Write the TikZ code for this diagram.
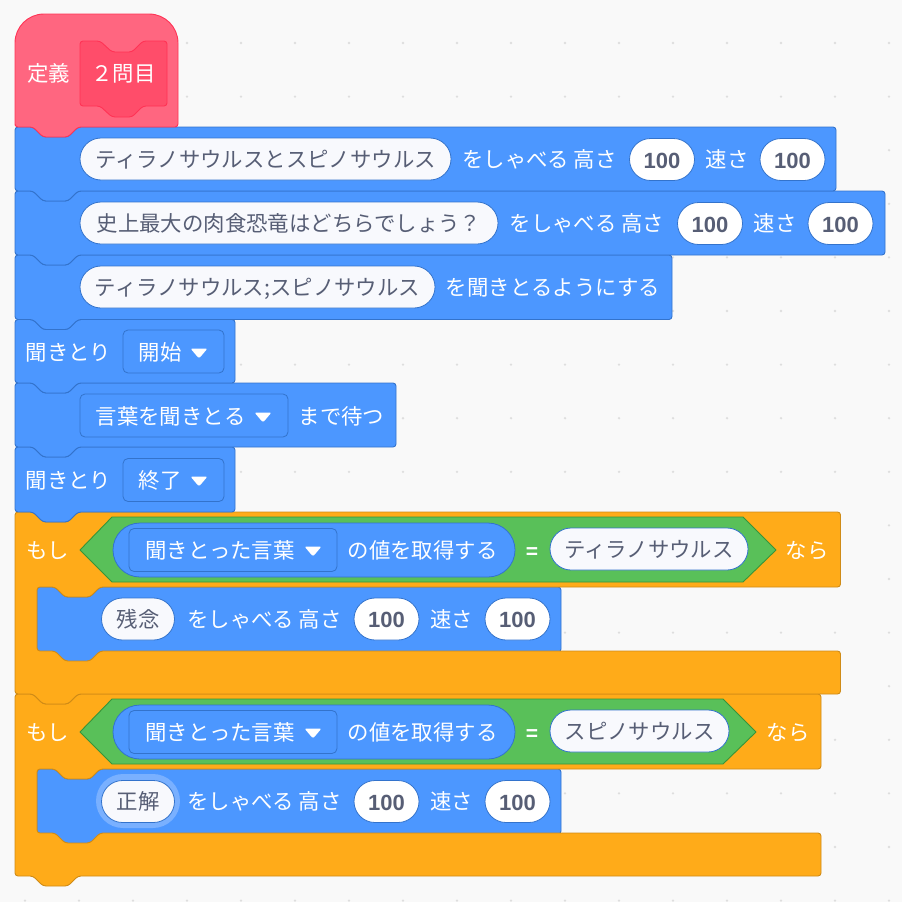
\documentclass[tikz,border=0pt]{standalone}
\usepackage{fontspec}
\usetikzlibrary{shapes.misc}
\setmainfont{Noto Sans CJK JP}
\newfontfamily\numfont{Liberation Sans}
\definecolor{bgc}{HTML}{F9F9F9}
\definecolor{dotc}{HTML}{DEDEDE}
\definecolor{bluef}{HTML}{4C97FF}
\definecolor{blued}{HTML}{3373CC}
\definecolor{orf}{HTML}{FFAB19}
\definecolor{ord}{HTML}{CF8B17}
\definecolor{grf}{HTML}{59C059}
\definecolor{grd}{HTML}{389438}
\definecolor{pkf}{HTML}{FF6680}
\definecolor{pki}{HTML}{FF4D6A}
\definecolor{pkd}{HTML}{FF3355}
\definecolor{inkc}{HTML}{575E75}
\definecolor{pilf}{HTML}{F8F9FD}
\definecolor{halo}{HTML}{79B0FF}
\tikzset{
  x=1pt,y=-1pt,
  looks/.style={line width=0.9pt,line join=round},
  blueblk/.style={looks,fill=bluef,draw=blued},
  orblk/.style={looks,fill=orf,draw=ord},
  lbl/.style={inner sep=0pt,text=white,font=\fontsize{21.4}{25}\selectfont,text height=21pt,text depth=5pt,anchor=center},
  inlbl/.style={shape=rounded rectangle,rounded rectangle arc length=180,inner sep=0pt,draw=blued,line width=0.8pt,fill=pilf,text=inkc,font=\fontsize{21.4}{25}\selectfont,text height=21pt,text depth=5pt,minimum height=42pt},
  numpill/.style={inlbl,fill=white,font=\numfont\bfseries\fontsize{22}{25}\selectfont,text height=20pt,text depth=3pt,minimum width=65pt},
  ddbox/.style={rectangle,rounded corners=5pt,draw=blued,line width=0.8pt,fill=bluef,inner sep=0pt,minimum height=43pt},
}
\newcommand{\stackblk}[5]{%
  \draw[#1,rounded corners=3pt] (#2,#3) -- (#2+18,#3) -- (#2+28,#3+10) -- (#2+53,#3+10) -- (#2+63,#3)
    -- (#4,#3) -- (#4,#5) -- (#2+63,#5) -- (#2+53,#5+10) -- (#2+28,#5+10) -- (#2+18,#5) -- (#2,#5) -- cycle;}
% top, right, arm bottom, inner bottom, bottom
\newcommand{\cblk}[5]{%
  \draw[orblk,rounded corners=3pt] (15,#1) -- (33,#1) -- (43,#1+10) -- (68,#1+10) -- (78,#1)
    -- (#2,#1) -- (#2,#3) -- (100,#3) -- (90,#3+10) -- (65,#3+10) -- (55,#3) -- (37,#3)
    -- (37,#4) -- (55,#4) -- (65,#4+10) -- (90,#4+10) -- (100,#4) -- (#2,#4) -- (#2,#5)
    -- (78,#5) -- (68,#5+10) -- (43,#5+10) -- (33,#5) -- (15,#5) -- cycle;}
\newcommand{\ddtri}[2]{%
  \fill[white,rounded corners=2pt] (#1-8.5,#2-4.5) -- (#1+8.5,#2-4.5) -- (#1,#2+5.5) -- cycle;}
% name prefix, y centre, right-corner x of hex, tip x, white pill centre x, pill width, text, nara x
\newcommand{\condition}[8]{%
  \draw[looks,fill=grf,draw=grd] (80,#2) -- (112,#2-33) -- (#3,#2-33) -- (#4,#2) -- (#3,#2+32) -- (112,#2+32) -- cycle;
  \node[inlbl,fill=bluef,minimum width=402pt,minimum height=54pt] (#1rep) at (314,#2) {};
  \node[ddbox,minimum width=208pt] (#1dd) at (233,#2) {};
  \node[lbl] (#1ddt) at (220,#2) {聞きとった言葉};
  \ddtri{313}{#2+1}
  \node[lbl] (#1val) at (422.5,#2) {の値を取得する};
  \node[lbl,font=\numfont\bfseries\fontsize{21}{25}\selectfont] (#1eq) at (532,#2) {=};
  \node[inlbl,minimum width=#6pt] (#1pill) at (#5,#2-1) {#7};
  \node[lbl] (#1nara) at (#8,#2) {なら};
  \node[lbl] (#1mosi) at (47.5,#2) {もし};
}
% name prefix, y centre, literal
\newcommand{\sayrow}[3]{%
  \node[inlbl,minimum width=73pt] (#1a) at (138,#2) {#3};
  \node[lbl] (#1b) at (264.5,#2) {をしゃべる 高さ};
  \node[numpill] (#1c) at (386.5,#2) {100};
  \node[lbl] (#1d) at (451.5,#2) {速さ};
  \node[numpill] (#1e) at (517.5,#2) {100};
}
\begin{document}
\begin{tikzpicture}
\useasboundingbox (0,0) rectangle (902,902);
\fill[bgc] (0,0) rectangle (902,902);
\foreach \i in {0,...,16}{\foreach \j in {0,...,16}{
  \fill[dotc] (25+54*\i,43+53.6*\j) circle (1.3pt);}}
% ---- second if block
\stackblk{blueblk}{37}{769}{561}{834}
\cblk{694}{821}{769}{833}{876}
% ---- first if block
\stackblk{blueblk}{37}{587}{561}{652}
\cblk{512}{840.5}{587}{651}{694}
% ---- stack
\stackblk{blueblk}{15}{447}{235}{512}
\stackblk{blueblk}{15}{383}{396}{447}
\stackblk{blueblk}{15}{319.5}{235}{383}
\stackblk{blueblk}{15}{255}{672}{319.5}
\stackblk{blueblk}{15}{191}{885}{255}
\stackblk{blueblk}{15}{127}{836}{191}
% ---- hat
\draw[looks,fill=pkf,draw=pkd] (15,127) [rounded corners=29pt] -- (15,14) -- (178,14) [rounded corners=3pt] -- (178,127)
  -- (78,127) -- (68,137) -- (43,137) -- (33,127) -- (15,127) -- cycle;
\draw[looks,fill=pki,draw=pkd,rounded corners=3pt] (80,41) -- (100,41) -- (112,52) -- (132,52) -- (143,41) -- (167,41)
  -- (167,106) -- (143,106) -- (132,117) -- (112,117) -- (100,106) -- (80,106) -- cycle;
\node[lbl] (defw) at (48.5,73) {定義};
\node[lbl] (defn) at (123.5,73) {２問目};
% ---- row 1
\node[inlbl,minimum width=371pt] (r1a) at (265.5,159) {ティラノサウルスとスピノサウルス};
\node[lbl] (r1b) at (539.5,159.5) {をしゃべる 高さ};
\node[numpill] (r1c) at (662,159.5) {100};
\node[lbl] (r1d) at (727,159.5) {速さ};
\node[numpill] (r1e) at (792.5,159.5) {100};
% ---- row 2
\node[inlbl,minimum width=418pt] (r2a) at (289,223) {史上最大の肉食恐竜はどちらでしょう？};
\node[lbl] (r2b) at (587,223.5) {をしゃべる 高さ};
\node[numpill] (r2c) at (710,223.5) {100};
\node[lbl] (r2d) at (775,223.5) {速さ};
\node[numpill] (r2e) at (840.5,223.5) {100};
% ---- row 3
\node[inlbl,minimum width=355pt] (r3a) at (257.5,287) {ティラノサウルス;スピノサウルス};
\node[lbl] (r3b) at (553,287.5) {を聞きとるようにする};
% ---- row 4
\node[lbl] (r4a) at (68.5,352) {聞きとり};
\node[ddbox,minimum width=101pt] (r4b) at (173.5,351.5) {};
\node[lbl] (r4c) at (160,352) {開始};
\ddtri{199}{353}
% ---- row 5
\node[ddbox,minimum width=208pt] (r5b) at (184,415.5) {};
\node[lbl] (r5c) at (170.5,416) {言葉を聞きとる};
\ddtri{263}{417}
\node[lbl] (r5d) at (341.5,416) {まで待つ};
% ---- row 6
\node[lbl] (r6a) at (68.5,480) {聞きとり};
\node[ddbox,minimum width=101pt] (r6b) at (173.5,480) {};
\node[lbl] (r6c) at (160,480) {終了};
\ddtri{199}{481}
% ---- conditions
\condition{ca}{550}{743}{776}{649}{198}{ティラノサウルス}{807}
\sayrow{sa}{619}{残念}
\condition{cb}{732}{723}{756}{639.5}{179}{スピノサウルス}{788}
\node[shape=rounded rectangle,rounded rectangle arc length=180,fill=halo,inner sep=0pt,minimum width=84pt,minimum height=54pt] (hl) at (138,801) {};
\sayrow{sb}{801.5}{正解}
\end{tikzpicture}
\end{document}
